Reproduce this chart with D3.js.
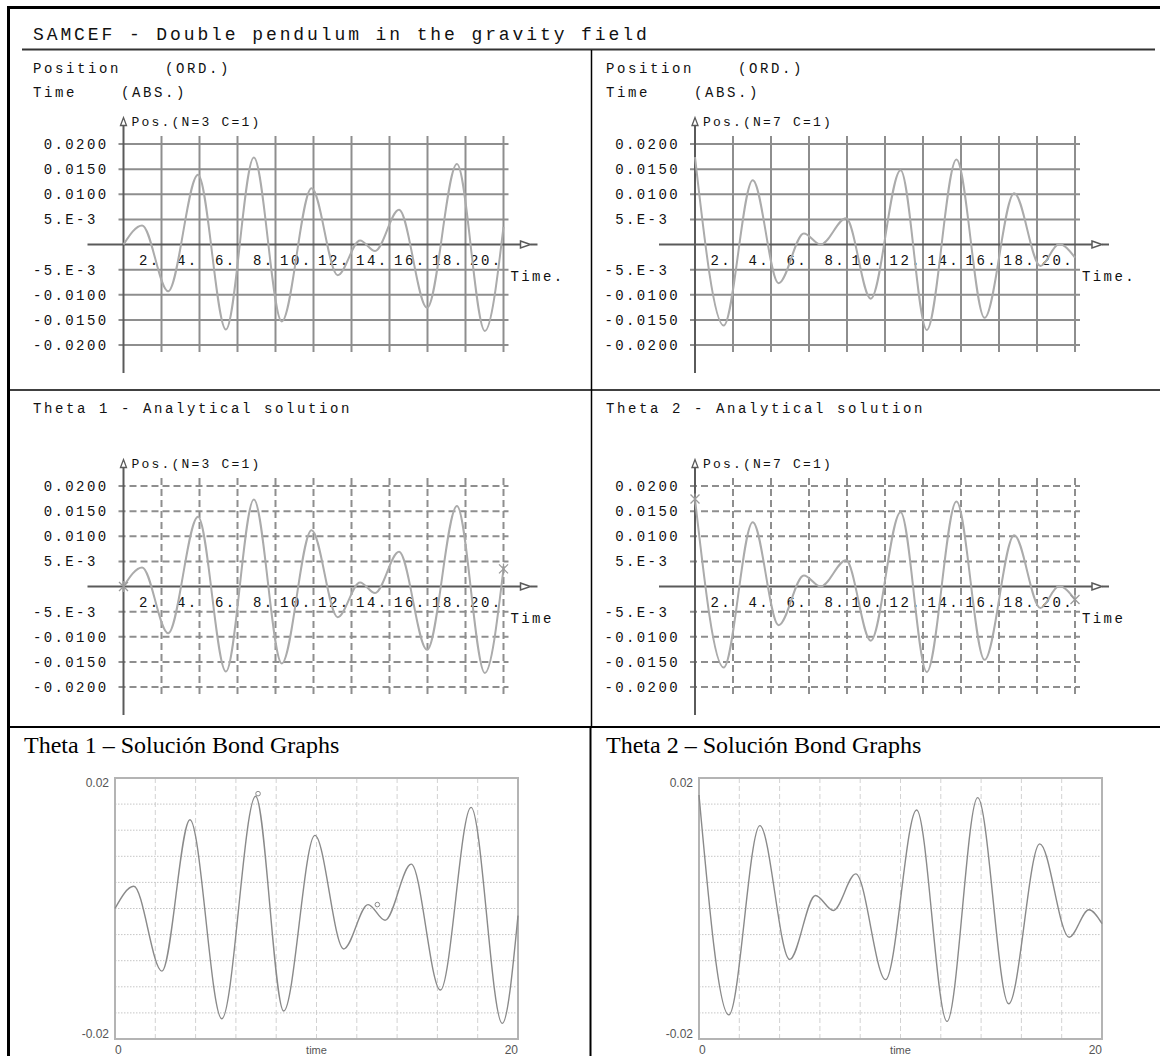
<!DOCTYPE html>
<html>
<head>
<meta charset="utf-8">
<script src="https://cdn.jsdelivr.net/npm/d3@7"></script>
<style>
  body { margin: 0; background: #fff; }
  svg { display: block; }
  .mono { font-family: "Liberation Mono", "DejaVu Sans Mono", monospace; white-space: pre; fill: #111; }
  .serif { font-family: "Liberation Serif", "Times New Roman", serif; fill: #000; }
  .sans { font-family: "Liberation Sans", Arial, sans-serif; fill: #555; }
</style>
</head>
<body>
<svg id="chart" width="1160" height="1056"></svg>
<script>
// ---- SAMCEF results: theta 1 (node 3) and theta 2 (node 7), time in s, position in rad
const theta1Time = [0, 0.98, 2.35, 3.92, 5.39, 6.86, 8.33, 9.9, 11.27, 12.45, 13.24, 14.5, 15.98, 17.55, 19.02, 20];
const theta1Pos  = [0, 0.0038, -0.0093, 0.0139, -0.0169, 0.0173, -0.0153, 0.0112, -0.0061, 0.0008, -0.0013, 0.0069, -0.0126, 0.0160, -0.0172, 0.0035];

const theta2Time = [0, 1.51, 3.04, 4.4, 5.73, 6.61, 7.95, 9.25, 10.82, 12.2, 13.76, 15.24, 16.8, 18.18, 19.16, 20];
const theta2Pos  = [0.0174, -0.0161, 0.0128, -0.0077, 0.0022, 0.0000, 0.0052, -0.0108, 0.0148, -0.0170, 0.0169, -0.0146, 0.0102, -0.0043, 0.0001, -0.0026];

// ---- Bond Graph results
const bond1Time = [0, 0.93, 2.33, 3.72, 5.3, 6.98, 8.37, 9.92, 11.35, 12.56, 13.4, 14.7, 16.15, 17.67, 19.22, 20];
const bond1Pos  = [0, 0.0034, -0.0096, 0.0136, -0.0169, 0.0172, -0.0157, 0.0112, -0.0062, 0.0006, -0.0018, 0.0068, -0.0125, 0.0155, -0.0176, -0.0011];
const bond1Marks = [[7.1, 0.0176], [13.02, 0.0006]];

const bond2Time = [0, 1.48, 3.02, 4.5, 5.78, 6.67, 7.78, 9.26, 10.8, 12.31, 13.83, 15.37, 16.91, 18.37, 19.35, 20];
const bond2Pos  = [0.0174, -0.0163, 0.0127, -0.0078, 0.0020, -0.0003, 0.0053, -0.0109, 0.0151, -0.0173, 0.0170, -0.0146, 0.0099, -0.0044, -0.0002, -0.0023];

// ---- axis ticks and labels
const samcefTimeTicks  = [2, 4, 6, 8, 10, 12, 14, 16, 18, 20];
const samcefTimeLabels = ["2.", "4.", "6.", "8.", "10.", "12.", "14.", "16.", "18.", "20."];
const samcefPosTicks   = [0.02, 0.015, 0.01, 0.005, -0.005, -0.01, -0.015, -0.02];
const samcefPosLabels  = ["0.0200", "0.0150", "0.0100", "5.E-3 ", "-5.E-3 ", "-0.0100", "-0.0150", "-0.0200"];
const bondGridTime = [2, 4, 6, 8, 10, 12, 14, 16, 18];
const bondGridPos  = [-0.016, -0.012, -0.008, -0.004, 0, 0.004, 0.008, 0.012, 0.016];

const svg = d3.select("#chart");
const zip = (a, b) => a.map((d, i) => [d, b[i]]);

// ---- page frame
const frame = svg.append("g").attr("stroke", "#000");
frame.append("line").attr("x1", 7).attr("x2", 1160).attr("y1", 7.5).attr("y2", 7.5).attr("stroke-width", 3);
frame.append("line").attr("x1", 8.5).attr("x2", 8.5).attr("y1", 6).attr("y2", 1056).attr("stroke-width", 3);
frame.append("line").attr("x1", 22).attr("x2", 1155).attr("y1", 49.5).attr("y2", 49.5).attr("stroke", "#333").attr("stroke-width", 2);
frame.append("line").attr("x1", 591.5).attr("x2", 591.5).attr("y1", 50).attr("y2", 727).attr("stroke-width", 1.5);
frame.append("line").attr("x1", 590.5).attr("x2", 590.5).attr("y1", 727).attr("y2", 1056).attr("stroke-width", 2);
frame.append("line").attr("x1", 8).attr("x2", 1160).attr("y1", 390).attr("y2", 390).attr("stroke-width", 1.5);
frame.append("line").attr("x1", 8).attr("x2", 1160).attr("y1", 727).attr("y2", 727).attr("stroke-width", 2);

svg.append("text").attr("class", "mono").attr("x", 33).attr("y", 40)
  .style("font-size", "18px").style("letter-spacing", "2.9px")
  .text("SAMCEF - Double pendulum in the gravity field");

// ---- SAMCEF style panel
function samcefPanel(cfg) {
  const x = d3.scaleLinear().domain([0, 20]).range([cfg.axisX, cfg.axisX + 380]);
  const y = d3.scaleLinear().domain([-0.02, 0.02]).range([cfg.zeroY + 100.5, cfg.zeroY - 100.5]);
  const g = svg.append("g");
  const grid = "#8e8e8e";

  g.selectAll("line.vg").data(samcefTimeTicks).join("line").attr("class", "vg")
    .attr("x1", d => x(d)).attr("x2", d => x(d))
    .attr("y1", y(0.02) - 8).attr("y2", y(-0.02) + 7)
    .attr("stroke", grid).attr("stroke-width", 2)
    .attr("stroke-dasharray", cfg.dashed ? "7,4" : null);

  g.selectAll("line.hg").data(samcefPosTicks).join("line").attr("class", "hg")
    .attr("x1", x(0) - 5).attr("x2", x(20) + 5)
    .attr("y1", d => y(d)).attr("y2", d => y(d))
    .attr("stroke", grid).attr("stroke-width", 2)
    .attr("stroke-dasharray", cfg.dashed ? "7,4" : null);

  // time axis with its arrow head
  const ax = "#5a5a5a";
  g.append("line").attr("x1", x(0) - 36).attr("x2", x(20) + 17)
    .attr("y1", y(0)).attr("y2", y(0)).attr("stroke", ax).attr("stroke-width", 2);
  g.append("path")
    .attr("d", `M${x(20) + 17},${y(0) - 3.5}L${x(20) + 27},${y(0)}L${x(20) + 17},${y(0) + 3.5}Z`)
    .attr("fill", "#fff").attr("stroke", ax).attr("stroke-width", 1.5);
  g.append("line").attr("x1", x(20) + 27).attr("x2", x(20) + 34)
    .attr("y1", y(0)).attr("y2", y(0)).attr("stroke", ax).attr("stroke-width", 2);

  // position axis with its arrow head
  g.append("line").attr("x1", x(0)).attr("x2", x(0))
    .attr("y1", cfg.zeroY - 119).attr("y2", cfg.zeroY + 128.5)
    .attr("stroke", ax).attr("stroke-width", 2);
  g.append("path")
    .attr("d", `M${x(0) - 3},${cfg.zeroY - 119}L${x(0)},${cfg.zeroY - 127}L${x(0) + 3},${cfg.zeroY - 119}Z`)
    .attr("fill", "#fff").attr("stroke", ax).attr("stroke-width", 1.3);

  g.append("text").attr("class", "mono").attr("x", x(0) + 8).attr("y", cfg.zeroY - 118.5)
    .style("font-size", "13px").style("letter-spacing", "2.2px").text(cfg.nodeLabel);

  g.selectAll("text.yl").data(samcefPosTicks).join("text").attr("class", "mono yl")
    .attr("x", x(0) - 15).attr("y", d => y(d)).attr("dy", "0.36em")
    .attr("text-anchor", "end")
    .style("font-size", "14px").style("letter-spacing", "2.4px")
    .text((d, i) => samcefPosLabels[i]);

  g.selectAll("text.xl").data(samcefTimeTicks).join("text").attr("class", "mono xl")
    .attr("x", d => x(d) - 1).attr("y", y(0) + 20)
    .attr("text-anchor", "end")
    .style("font-size", "14px").style("letter-spacing", "2.4px")
    .text((d, i) => samcefTimeLabels[i]);

  g.append("text").attr("class", "mono").attr("x", x(20) + 7).attr("y", y(0) + 36)
    .style("font-size", "14px").style("letter-spacing", "2.4px").text(cfg.timeLabel);

  const line = d3.line().x(d => x(d[0])).y(d => y(d[1])).curve(d3.curveMonotoneX);
  g.append("path").datum(zip(cfg.t, cfg.v)).attr("d", line)
    .attr("fill", "none").attr("stroke", "#ababab").attr("stroke-width", 2);

  if (cfg.markers) {
    const ends = [[cfg.t[0], cfg.v[0]], [cfg.t[cfg.t.length - 1], cfg.v[cfg.v.length - 1]]];
    const s = 4.5;
    ends.forEach(p => {
      const cx = x(p[0]), cy = y(p[1]);
      g.append("path")
        .attr("d", `M${cx - s},${cy - s}L${cx + s},${cy + s}M${cx - s},${cy + s}L${cx + s},${cy - s}M${cx},${cy - s - 1}L${cx},${cy + s + 1}`)
        .attr("stroke", "#9a9a9a").attr("stroke-width", 1.3).attr("fill", "none");
    });
  }
}

const colText = [33, 606];
const colAxis = [123.5, 695];

// header texts of the SAMCEF rows
colText.forEach(cx => {
  svg.append("text").attr("class", "mono").attr("x", cx).attr("y", 73)
    .style("font-size", "14px").style("letter-spacing", "2.6px").text("Position    (ORD.)");
  svg.append("text").attr("class", "mono").attr("x", cx).attr("y", 97)
    .style("font-size", "14px").style("letter-spacing", "2.6px").text("Time    (ABS.)");
});
svg.append("text").attr("class", "mono").attr("x", colText[0]).attr("y", 413)
  .style("font-size", "14px").style("letter-spacing", "2.6px").text("Theta 1 - Analytical solution");
svg.append("text").attr("class", "mono").attr("x", colText[1]).attr("y", 413)
  .style("font-size", "14px").style("letter-spacing", "2.6px").text("Theta 2 - Analytical solution");

samcefPanel({ axisX: colAxis[0], zeroY: 244.5, dashed: false, nodeLabel: "Pos.(N=3 C=1)", timeLabel: "Time.", t: theta1Time, v: theta1Pos });
samcefPanel({ axisX: colAxis[1], zeroY: 244.5, dashed: false, nodeLabel: "Pos.(N=7 C=1)", timeLabel: "Time.", t: theta2Time, v: theta2Pos });
samcefPanel({ axisX: colAxis[0], zeroY: 586.5, dashed: true, nodeLabel: "Pos.(N=3 C=1)", timeLabel: "Time", t: theta1Time, v: theta1Pos, markers: true });
samcefPanel({ axisX: colAxis[1], zeroY: 586.5, dashed: true, nodeLabel: "Pos.(N=7 C=1)", timeLabel: "Time", t: theta2Time, v: theta2Pos, markers: true });

// ---- Bond Graph style panel
function bondPanel(cfg) {
  const x = d3.scaleLinear().domain([0, 20]).range([cfg.left, cfg.left + 403]);
  const y = d3.scaleLinear().domain([-0.02, 0.02]).range([1039, 778]);
  const g = svg.append("g");

  svg.append("text").attr("class", "serif").attr("x", cfg.titleX).attr("y", 753)
    .style("font-size", "24px").text(cfg.title);

  g.selectAll("line.vg").data(bondGridTime).join("line")
    .attr("x1", d => x(d)).attr("x2", d => x(d)).attr("y1", y(0.02)).attr("y2", y(-0.02))
    .attr("stroke", "#d2d2d2").attr("stroke-width", 1).attr("stroke-dasharray", "5,3");
  g.selectAll("line.hg").data(bondGridPos).join("line")
    .attr("x1", x(0)).attr("x2", x(20)).attr("y1", d => y(d)).attr("y2", d => y(d))
    .attr("stroke", "#c6c6c6").attr("stroke-width", 1).attr("stroke-dasharray", "1.5,1.5");
  g.append("rect").attr("x", x(0)).attr("y", y(0.02))
    .attr("width", x(20) - x(0)).attr("height", y(-0.02) - y(0.02))
    .attr("fill", "none").attr("stroke", "#b4b4b4").attr("stroke-width", 2);

  g.append("text").attr("class", "sans").attr("x", x(0) - 6).attr("y", y(0.02) + 9)
    .attr("text-anchor", "end").style("font-size", "12px").text("0.02");
  g.append("text").attr("class", "sans").attr("x", x(0) - 6).attr("y", y(-0.02) - 1)
    .attr("text-anchor", "end").style("font-size", "12px").text("-0.02");
  g.append("text").attr("class", "sans").attr("x", x(0)).attr("y", 1054)
    .style("font-size", "12px").text("0");
  g.append("text").attr("class", "sans").attr("x", x(20)).attr("y", 1054)
    .attr("text-anchor", "end").style("font-size", "12px").text("20");
  g.append("text").attr("class", "sans").attr("x", x(10)).attr("y", 1054)
    .attr("text-anchor", "middle").style("font-size", "11px").text("time");

  const line = d3.line().x(d => x(d[0])).y(d => y(d[1])).curve(d3.curveMonotoneX);
  g.append("path").datum(zip(cfg.t, cfg.v)).attr("d", line)
    .attr("fill", "none").attr("stroke", "#8a8a8a").attr("stroke-width", 1.4);

  g.selectAll("circle").data(cfg.marks || []).join("circle")
    .attr("cx", d => x(d[0])).attr("cy", d => y(d[1])).attr("r", 2.3)
    .attr("fill", "#fff").attr("stroke", "#8a8a8a").attr("stroke-width", 1);
}

bondPanel({ left: 115, titleX: 24, title: "Theta 1 – Solución Bond Graphs", t: bond1Time, v: bond1Pos, marks: bond1Marks });
bondPanel({ left: 699, titleX: 606, title: "Theta 2 – Solución Bond Graphs", t: bond2Time, v: bond2Pos });
</script>
</body>
</html>
